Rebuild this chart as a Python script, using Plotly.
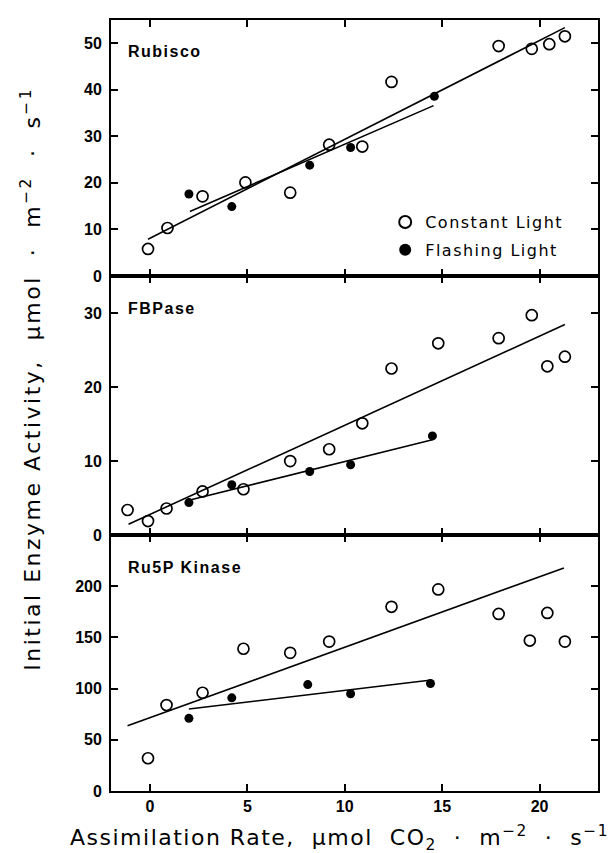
import plotly.graph_objects as go
from plotly.subplots import make_subplots

# ---------------- data ----------------
x_range = [-2, 23]
x_ticks = [0, 5, 10, 15, 20]

panel_names = ["Rubisco", "FBPase", "Ru5P Kinase"]
y_ranges = [[0, 55], [0, 35], [0, 250]]
y_tickvals = [[0, 10, 20, 30, 40, 50], [0, 10, 20, 30], [0, 50, 100, 150, 200]]

# Rubisco
rub_const_x = [-0.1, 0.9, 2.7, 4.9, 7.2, 9.2, 10.9, 12.4, 17.9, 19.6, 20.5, 21.3]
rub_const_y = [5.8, 10.3, 17.1, 20.1, 17.9, 28.2, 27.8, 41.7, 49.4, 48.8, 49.8, 51.5]
rub_flash_x = [2.0, 4.2, 8.2, 10.3, 14.6]
rub_flash_y = [17.6, 14.9, 23.8, 27.6, 38.6]

# FBPase
fbp_const_x = [-1.15, -0.1, 0.85, 2.7, 4.8, 7.2, 9.2, 10.9, 12.4, 14.8, 17.9, 19.6, 20.4, 21.3]
fbp_const_y = [3.4, 1.9, 3.6, 5.9, 6.2, 10.0, 11.6, 15.1, 22.5, 25.9, 26.6, 29.7, 22.8, 24.1]
fbp_flash_x = [2.0, 4.2, 8.2, 10.3, 14.5]
fbp_flash_y = [4.4, 6.8, 8.6, 9.5, 13.4]

# Ru5P Kinase
ru5_const_x = [-0.1, 0.85, 2.7, 4.8, 7.2, 9.2, 12.4, 14.8, 17.9, 19.5, 20.4, 21.3]
ru5_const_y = [32, 84, 96, 139, 135, 146, 180, 197, 173, 147, 174, 146]
ru5_flash_x = [2.0, 4.2, 8.1, 10.3, 14.4]
ru5_flash_y = [71, 91, 104, 95, 105]

# fitted regression lines: [x_start, x_end], intercept, slope
const_fit_xs = [[-0.1, 21.3], [-1.1, 21.3], [-1.15, 21.25]]
const_fit_a = [8.1, 2.8, 71.6]
const_fit_b = [2.125, 1.204, 6.89]
flash_fit_xs = [[2.05, 14.56], [2.0, 14.5], [2.0, 14.45]]
flash_fit_a = [10.1, 3.4, 75.5]
flash_fit_b = [1.82, 0.654, 2.28]

const_data = [(rub_const_x, rub_const_y), (fbp_const_x, fbp_const_y), (ru5_const_x, ru5_const_y)]
flash_data = [(rub_flash_x, rub_flash_y), (fbp_flash_x, fbp_flash_y), (ru5_flash_x, ru5_flash_y)]

# ---------------- figure ----------------
FONT = "DejaVu Sans"
TICKFONT = dict(family="Liberation Sans", size=16, color="black", weight="bold")


def spaced(s, px):
    return f'<span style="letter-spacing:{px}px">{s}</span>'


fig = make_subplots(rows=3, cols=1, shared_xaxes=True, vertical_spacing=0,
                    row_heights=[256.7, 260, 256.6])

for i in range(3):
    row = i + 1
    xs = const_fit_xs[i]
    fig.add_trace(go.Scatter(x=xs, y=[const_fit_a[i] + const_fit_b[i] * v for v in xs],
                             mode="lines", line=dict(color="black", width=1.6),
                             showlegend=False, hoverinfo="skip"), row=row, col=1)
    xs = flash_fit_xs[i]
    fig.add_trace(go.Scatter(x=xs, y=[flash_fit_a[i] + flash_fit_b[i] * v for v in xs],
                             mode="lines", line=dict(color="black", width=1.6),
                             showlegend=False, hoverinfo="skip"), row=row, col=1)
    fig.add_trace(go.Scatter(x=const_data[i][0], y=const_data[i][1], mode="markers",
                             name=spaced("Constant Light", 1.5),
                             marker=dict(symbol="circle-open", size=11, color="black",
                                         line=dict(width=1.7, color="black")),
                             showlegend=(i == 0), legendgroup="c"), row=row, col=1)
    fig.add_trace(go.Scatter(x=flash_data[i][0], y=flash_data[i][1], mode="markers",
                             name=spaced("Flashing Light", 1.5),
                             marker=dict(symbol="circle", size=9, color="black"),
                             showlegend=(i == 0), legendgroup="f"), row=row, col=1)

    fig.update_yaxes(range=y_ranges[i], tickvals=y_tickvals[i], ticks="inside", ticklen=7,
                     tickwidth=1.5, tickcolor="black", mirror="ticks", showline=True,
                     linecolor="black", linewidth=1.8, showgrid=False, zeroline=False,
                     tickfont=TICKFONT, ticklabelstandoff=4, row=row, col=1)
    fig.update_xaxes(range=x_range, tickvals=x_ticks, ticks="inside", ticklen=7,
                     tickwidth=1.5, tickcolor="black", mirror="ticks", showline=True,
                     linecolor="black", linewidth=1.8, showgrid=False, zeroline=False,
                     tickfont=TICKFONT, showticklabels=(row == 3), row=row, col=1)

# panel labels
for i, name in enumerate(panel_names):
    yref = "y domain" if i == 0 else f"y{i+1} domain"
    xref = "x domain" if i == 0 else f"x{i+1} domain"
    fig.add_annotation(text=spaced(name, 1.5),
                       xref=xref, yref=yref, x=0.03, y=0.875,
                       xanchor="left", yanchor="middle", showarrow=False,
                       font=dict(family="Liberation Sans", size=16, color="black", weight="bold"))

# axis titles
fig.add_annotation(
    text=spaced("Initial Enzyme Activity,  μmol  ·  m<sup>−2</sup>  ·  s<sup>−1</sup>", 2.5),
    xref="paper", yref="paper", x=-0.166, y=0.535, textangle=-90,
    xanchor="center", yanchor="middle", showarrow=False,
    font=dict(family=FONT, size=22, color="black"))
fig.add_annotation(
    text=spaced("Assimilation Rate,  μmol  CO<sub>2</sub>  ·  m<sup>−2</sup>  ·  s<sup>−1</sup>", 1.5),
    xref="paper", yref="paper", x=0.47, y=-0.061,
    xanchor="center", yanchor="middle", showarrow=False,
    font=dict(family=FONT, size=22, color="black"))

fig.update_layout(
    width=616, height=853,
    margin=dict(l=103, r=26, t=10, b=70),
    plot_bgcolor="white", paper_bgcolor="white",
    font=dict(family=FONT, color="black"),
    legend=dict(x=0.563, y=0.760, xanchor="left", yanchor="top",
                bgcolor="rgba(0,0,0,0)", font=dict(family=FONT, size=16, color="black"),
                tracegroupgap=4, itemsizing="constant"),
    showlegend=True,
)

fig.write_html("out.html")
